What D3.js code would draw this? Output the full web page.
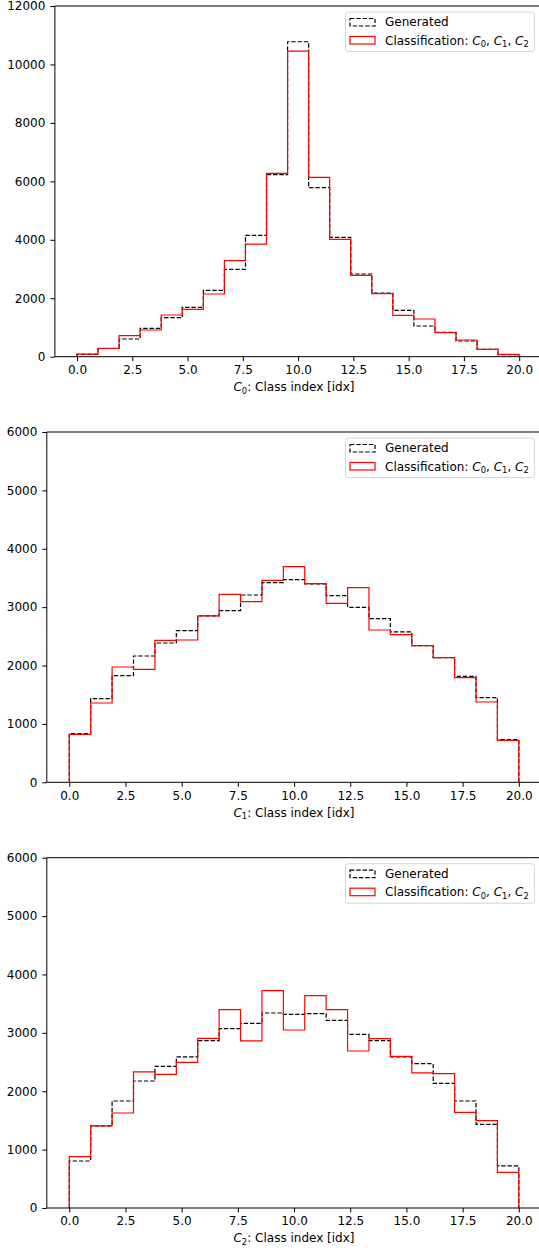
<!DOCTYPE html>
<html>
<head>
<meta charset="utf-8">
<script src="https://cdn.jsdelivr.net/npm/d3@7"></script>
<style>
  body { margin: 0; background: #fff; }
  svg { display: block; font-family: "DejaVu Sans", sans-serif; }
</style>
</head>
<body>
<svg id="chart" width="539" height="1251"></svg>
<script>
// 21 bins between 0 and 20 (class index)
const binCount = 21;
const xRange = [0, 20];
const xTicks = [0, 2.5, 5, 7.5, 10, 12.5, 15, 17.5, 20];

// C0 panel
const generated0 = [80, 280, 605, 970, 1334, 1690, 2270, 2990, 4153, 6227, 10777,
  5782, 4085, 2829, 2179, 1587, 1050, 835, 537, 253, 70];
const classified0 = [90, 287, 718, 913, 1427, 1620, 2145, 3285, 3855, 6274, 10458,
  6137, 4016, 2785, 2155, 1416, 1290, 821, 571, 253, 82];
const yTicks0 = [0, 2000, 4000, 6000, 8000, 10000, 12000];

// C1 panel
const generated1 = [833, 1432, 1826, 2163, 2386, 2597, 2849, 2940, 3208, 3420, 3471,
  3397, 3197, 2997, 2803, 2575, 2340, 2135, 1815, 1449, 730];
const classified1 = [822, 1358, 1975, 1935, 2432, 2437, 2849, 3220, 3094, 3460, 3693,
  3402, 3066, 3334, 2609, 2529, 2340, 2135, 1792, 1375, 719];
const yTicks1 = [0, 1000, 2000, 3000, 4000, 5000, 6000];

// C2 panel
const generated2 = [805, 1405, 1833, 2175, 2427, 2587, 2866, 3072, 3163, 3340, 3318,
  3329, 3215, 2975, 2866, 2587, 2472, 2135, 1833, 1433, 720];
const classified2 = [879, 1405, 1627, 2330, 2290, 2495, 2906, 3397, 2861, 3723, 3049,
  3637, 3397, 2689, 2900, 2598, 2313, 2301, 1639, 1496, 611];
const yTicks2 = [0, 1000, 2000, 3000, 4000, 5000, 6000];

const legendLabels = ["Generated", "Classification"];

const svg = d3.select("#chart");
const fontSize = 12;
const binEdges = d3.range(binCount + 1).map(
  (i) => xRange[0] + (i * (xRange[1] - xRange[0])) / binCount
);

const panels = [
  { top: 6, bottom: 356.7, left: 54.9, gen: generated0, cls: classified0, yTicks: yTicks0, sub: "0" },
  { top: 432, bottom: 782.3, left: 46.8, gen: generated1, cls: classified1, yTicks: yTicks1, sub: "1" },
  { top: 857.7, bottom: 1208, left: 46.8, gen: generated2, cls: classified2, yTicks: yTicks2, sub: "2" },
];
const axesRight = 541.3;

// write italic C with a subscript, like matplotlib mathtext
function mathC(text, idx) {
  text.append("tspan").attr("font-style", "italic").text("C");
  text.append("tspan").attr("font-size", 8.4).attr("dy", 2.6).text(idx);
  return text.append("tspan").attr("dy", -2.6);
}

function stepPoints(values) {
  const pts = [[binEdges[0], 0]];
  values.forEach((v, i) => {
    pts.push([binEdges[i], v]);
    pts.push([binEdges[i + 1], v]);
  });
  pts.push([binEdges[binCount], 0]);
  return pts;
}

panels.forEach((p) => {
  const x = d3.scaleLinear().domain([-1, 21]).range([p.left, axesRight]);
  const y = d3
    .scaleLinear()
    .domain([0, d3.max(p.yTicks)])
    .range([p.bottom, p.top]);

  const g = svg.append("g");

  const line = d3
    .line()
    .x((d) => x(d[0]))
    .y((d) => y(d[1]));

  // Generated (black dashed step)
  g.append("path")
    .datum(stepPoints(p.gen))
    .attr("d", line)
    .attr("fill", "none")
    .attr("stroke", "#000")
    .attr("stroke-width", 1.2)
    .attr("stroke-dasharray", "4.4,1.9");

  // Classification (red step)
  g.append("path")
    .datum(stepPoints(p.cls))
    .attr("d", line)
    .attr("fill", "none")
    .attr("stroke", "#ff0000")
    .attr("stroke-width", 1.2);

  // Axes
  g.append("g")
    .attr("transform", `translate(0,${p.bottom})`)
    .call(
      d3.axisBottom(x)
        .tickValues(xTicks)
        .tickSize(4.5)
        .tickPadding(4.3)
        .tickFormat(d3.format(".1f"))
    )
    .call((a) => a.select(".domain").remove());

  g.append("g")
    .attr("transform", `translate(${p.left},0)`)
    .call(
      d3.axisLeft(y)
        .tickValues(p.yTicks)
        .tickSize(4.5)
        .tickPadding(5)
        .tickFormat(d3.format("d"))
    )
    .call((a) => a.select(".domain").remove());

  g.selectAll(".tick text")
    .attr("font-family", "DejaVu Sans")
    .attr("font-size", fontSize)
    .attr("fill", "#000");
  g.selectAll(".tick line").attr("stroke", "#000").attr("stroke-width", 1);

  // spines
  g.append("path")
    .attr("d", `M${axesRight},${p.top}H${p.left}V${p.bottom}H${axesRight}`)
    .attr("fill", "none")
    .attr("stroke", "#000")
    .attr("stroke-width", 1);

  // x label
  const xl = g.append("text")
    .attr("x", 294)
    .attr("y", p.bottom + 34.4)
    .attr("text-anchor", "middle")
    .attr("font-size", fontSize);
  mathC(xl, p.sub).text(": Class index [idx]");

  // legend
  const lg = g.append("g").attr("transform", `translate(345.5,${p.top + 6})`);
  lg.append("rect")
    .attr("width", 189)
    .attr("height", 39.5)
    .attr("rx", 2.5)
    .attr("fill", "#fff")
    .attr("fill-opacity", 0.8)
    .attr("stroke", "#d6d6d6")
    .attr("stroke-width", 1);

  lg.append("rect")
    .attr("x", 4.5).attr("y", 6.5)
    .attr("width", 25).attr("height", 7.5)
    .attr("fill", "none")
    .attr("stroke", "#000")
    .attr("stroke-width", 1.2)
    .attr("stroke-dasharray", "4.4,1.9");
  lg.append("text")
    .attr("x", 39.5).attr("y", 14)
    .attr("font-size", fontSize)
    .text(legendLabels[0]);

  lg.append("rect")
    .attr("x", 4.5).attr("y", 24.5)
    .attr("width", 25).attr("height", 7.5)
    .attr("fill", "none")
    .attr("stroke", "#ff0000")
    .attr("stroke-width", 1.2);
  const lt = lg.append("text")
    .attr("x", 39.5).attr("y", 32.5)
    .attr("font-size", fontSize);
  lt.append("tspan").text(legendLabels[1] + ": ");
  mathC(lt, "0").text(", ");
  mathC(lt, "1").text(", ");
  mathC(lt, "2");
});
</script>
</body>
</html>
